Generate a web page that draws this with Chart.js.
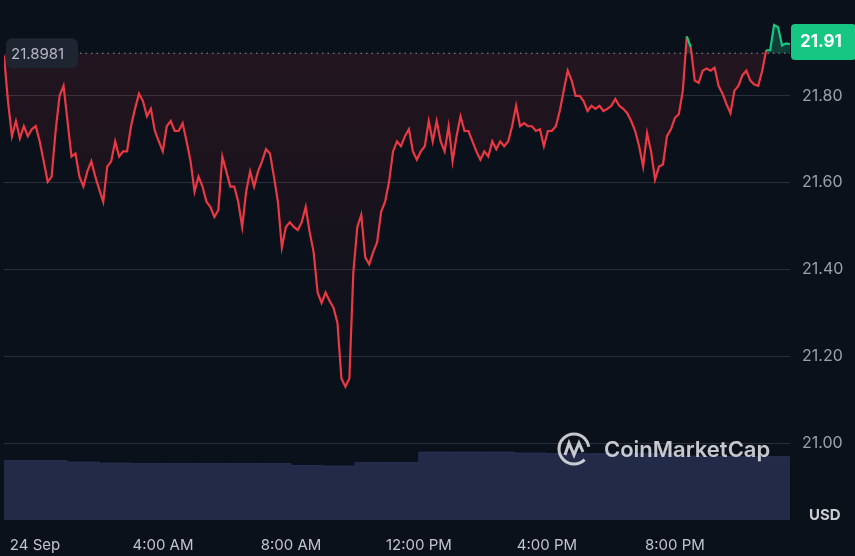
<!DOCTYPE html>
<html><head><meta charset="utf-8">
<script src="https://cdn.jsdelivr.net/npm/chart.js@4.4.0/dist/chart.umd.min.js"></script>
<style>html,body{margin:0;padding:0;background:#0b111b;}#c{display:block}</style>
</head><body>
<canvas id="c" width="855" height="556"></canvas>
<script>
const prices=[21.893,21.788,21.707,21.742,21.702,21.730,21.707,21.723,21.730,21.695,21.649,21.602,21.614,21.719,21.800,21.823,21.742,21.660,21.667,21.614,21.591,21.626,21.649,21.614,21.584,21.556,21.637,21.649,21.695,21.660,21.672,21.672,21.730,21.770,21.805,21.788,21.753,21.770,21.719,21.695,21.672,21.730,21.742,21.719,21.719,21.737,21.695,21.649,21.579,21.614,21.591,21.556,21.544,21.521,21.537,21.660,21.626,21.591,21.591,21.556,21.498,21.579,21.626,21.591,21.626,21.649,21.677,21.667,21.614,21.556,21.451,21.498,21.509,21.498,21.491,21.509,21.544,21.486,21.440,21.347,21.323,21.347,21.328,21.312,21.277,21.149,21.130,21.149,21.393,21.498,21.526,21.428,21.412,21.440,21.463,21.533,21.556,21.602,21.672,21.695,21.684,21.707,21.723,21.672,21.653,21.672,21.684,21.742,21.695,21.742,21.695,21.672,21.730,21.649,21.707,21.753,21.719,21.719,21.695,21.672,21.653,21.672,21.660,21.695,21.677,21.695,21.684,21.695,21.730,21.777,21.730,21.737,21.730,21.730,21.719,21.723,21.684,21.719,21.719,21.730,21.765,21.812,21.858,21.835,21.800,21.800,21.788,21.765,21.777,21.770,21.777,21.765,21.770,21.777,21.793,21.777,21.770,21.760,21.742,21.719,21.684,21.637,21.714,21.672,21.607,21.637,21.642,21.707,21.723,21.749,21.758,21.812,21.937,21.912,21.835,21.830,21.858,21.863,21.858,21.865,21.823,21.805,21.781,21.760,21.812,21.823,21.847,21.858,21.835,21.826,21.823,21.858,21.905,21.905,21.963,21.958,21.916,21.921,21.919];
const volHours=[-1,0,1,2,3,4,5,6,7,8,9,10,11,12,13,14,15,16,17,18,19,20,21,22,23,23.6];
const volumes=[11.9,11.9,11.6,11.4,11.3,11.3,11.3,11.3,11.3,10.9,10.8,11.5,11.5,13.6,13.6,13.6,13.4,13.3,13.3,13.3,13.3,12.8,12.7,12.7,12.7,12.7];
const tickHours=[0,4,8,12,16,20];
const tickLabels=['24 Sep','4:00 AM','8:00 AM','12:00 PM','4:00 PM','8:00 PM'];
const yTicks=[21.0,21.2,21.4,21.6,21.8];
const baseline=21.8981, lastPrice='21.91';
const tStart=-0.97,tEnd=23.6;
const pts=prices.map((v,i)=>({x:tStart+i*(tEnd-tStart)/(prices.length-1),y:v}));
const volPts=volHours.map((h,i)=>({x:h,y:volumes[i]}));
const RED='#ea3943',GREEN='#16c784';
const ctx=document.getElementById('c').getContext('2d');
const overlay={id:'ov',
 afterDraw(ch){
  const c=ch.ctx,a=ch.chartArea,ys=ch.scales.y;
  const by=ys.getPixelForValue(baseline);
  c.save();
  c.strokeStyle='#8a919e';c.setLineDash([1.5,4]);c.lineWidth=1.2;
  c.beginPath();c.moveTo(80,by);c.lineTo(a.right,by);c.stroke();c.setLineDash([]);
  c.fillStyle='#1f2530';rr(c,6,by-15,72,30,6);c.fill();
  c.fillStyle='#b4b9c3';c.font='15px Inter, sans-serif';c.textBaseline='middle';c.textAlign='left';
  c.fillText('21.8981',11,by+1);
  c.fillStyle=GREEN;rr(c,a.right+1,24,65,36,4);c.fill();
  c.fillStyle='#fff';c.font='bold 17px Inter, sans-serif';c.fillText(lastPrice,800,42);
  c.fillStyle='#c8ccd3';c.font='bold 15px Inter, sans-serif';c.fillText('USD',809,515);
  c.globalAlpha=0.85;c.strokeStyle='#e6e8ec';c.lineWidth=3;
  c.beginPath();c.arc(574,449,15,0.25*Math.PI,1.95*Math.PI);c.stroke();
  c.beginPath();c.moveTo(565,455);c.lineTo(569,443);c.lineTo(574,455);c.lineTo(579,443);c.lineTo(583,452);c.stroke();
  c.fillStyle='#e6e8ec';c.font='600 22px Inter, sans-serif';c.fillText('CoinMarketCap',604,450);
  c.restore();
 }};
function rr(c,x,y,w,h,r){c.beginPath();c.moveTo(x+r,y);c.arcTo(x+w,y,x+w,y+h,r);c.arcTo(x+w,y+h,x,y+h,r);c.arcTo(x,y+h,x,y,r);c.arcTo(x,y,x+w,y,r);c.closePath();}
new Chart(ctx,{type:'line',
 data:{datasets:[
  {data:pts,yAxisID:'y',borderWidth:2.2,pointRadius:0,tension:0,order:1,
   segment:{borderColor:s=>(s.p0.parsed.y>baseline&&s.p1.parsed.y>baseline)?GREEN:RED},
   borderColor:RED,
   fill:{target:{value:baseline},above:'rgba(22,199,132,0.25)',
     below:(c)=>{const ch=c.chart;if(!ch.chartArea)return 'rgba(234,57,67,0.08)';const g=ch.ctx.createLinearGradient(0,ch.scales.y.getPixelForValue(baseline),0,ch.scales.y.getPixelForValue(21.1));g.addColorStop(0,'rgba(234,57,67,0.11)');g.addColorStop(1,'rgba(234,57,67,0.0)');return g;}}},
  {data:volPts,yAxisID:'y2',stepped:'before',borderWidth:1,borderColor:'#2a3358',backgroundColor:'#222a48',fill:'origin',pointRadius:0,order:2}
 ]},
 options:{responsive:false,animation:false,
  layout:{padding:{left:4,top:0,right:0,bottom:0}},
  plugins:{legend:{display:false},tooltip:{enabled:false}},
  scales:{
   x:{type:'linear',min:tStart,max:tEnd,grid:{display:false},border:{display:false},
    afterBuildTicks:s=>{s.ticks=tickHours.map(v=>({value:v}));},
    afterFit:s=>{s.height=36;},
    ticks:{autoSkip:false,maxRotation:0,color:'#c0c4cc',font:{size:15,family:'Inter'},padding:8,callback:(v)=>tickLabels[tickHours.indexOf(v)]}},
   y:{position:'right',min:20.823,max:21.971,
    afterBuildTicks:s=>{s.ticks=yTicks.map(v=>({value:v}));},
    afterFit:s=>{s.width=65;},
    grid:{color:'#2a303b',drawTicks:false},border:{display:false},
    ticks:{color:'#9aa0ab',font:{size:16,family:'Inter'},padding:12,callback:v=>v.toFixed(2)}},
   y2:{display:false,min:0,max:100}
  }},
 plugins:[overlay]});
</script>
</body></html>
